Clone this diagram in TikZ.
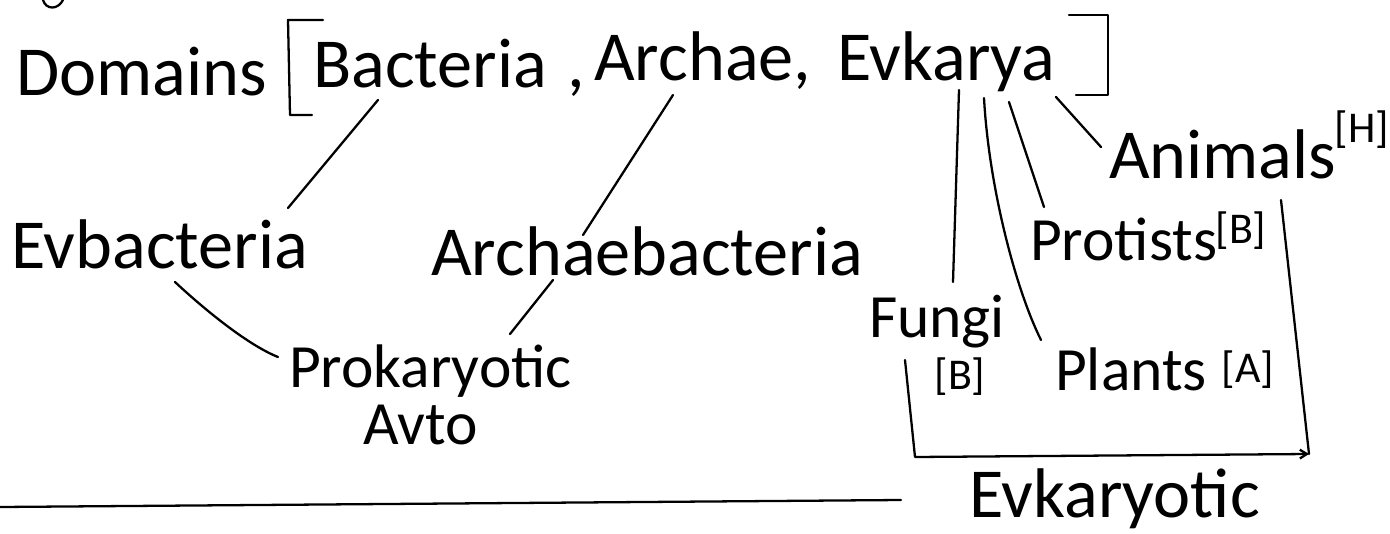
\documentclass[tikz,border=0pt]{standalone}
\usepackage{fontspec}
\setmainfont{Carlito}
\usetikzlibrary{arrows.meta}

\begin{document}
\begin{tikzpicture}[
  x=0.02cm, y=-0.02cm,
  line width=1.3pt, line cap=round, line join=round,
  word/.style={inner sep=0pt, anchor=base west, font=\fontsize{40}{40}\selectfont},
  smallword/.style={word, font=\fontsize{35}{35}\selectfont},
  tag/.style={inner sep=0pt, font=\fontsize{25}{25}\selectfont}
]
\useasboundingbox (0,0) rectangle (1390,534);

% top line
\node[word] (dom) at (15,95) {Domains};
\node[word] (bac) at (312,87) {Bacteria};
\node[word] (cm1) at (566,87) {,};
\node[word] (arc) at (593,80) {Archae,};
\node[word] (evk) at (836,80) {Evkarya};

% hand drawn brackets
\draw (323,20) -- (288,20) -- (290,115) -- (312,115);
\draw (1069,15) -- (1108,15) -- (1108,95) -- (1076,95);
\draw (43,0) .. controls (46,10) and (58,10) .. (63,0);

% prokaryotes
\node[word] (evb) at (10,268) {Evbacteria};
\node[word] (arcb) at (430,275) {Archaebacteria};
\node[smallword] (prok) at (288,387) {Prokaryotic};
\node[smallword] (avto) at (362,444) {Avto};

% eukaryotes
\node[word] (ani) at (1108,178) {Animals};
\node[tag] (aniH) at (1362,130) {[H]};
\node[smallword] (pro) at (1029,260) {Protists};
\node[tag] (proB) at (1241,231) {[B]};
\node[smallword] (fun) at (868,337) {Fungi};
\node[tag] (funB) at (960,377) {[B]};
\node[smallword] (pla) at (1054,390) {Plants};
\node[tag] (plaA) at (1248,370) {[A]};
\node[word] (euk) at (968,517) {Evkaryotic};

\coordinate (boxbl) at (915,457);
\coordinate (boxbr) at (1309,454);
\coordinate (sepL) at (0,507);
\coordinate (sepR) at (901,500);

% links
\draw ([shift={(66,13)}]bac.base west) -- ([shift={(278,-60)}]evb.base west);
\draw ([shift={(80,15)}]arc.base west) -- ([shift={(153,-40)}]arcb.base west);
\draw ([shift={(165,14)}]evb.base west) .. controls +(30,28) and +(-30,-12) .. ([shift={(-10,-30)}]prok.base west);
\draw ([shift={(123,5)}]arcb.base west) -- ([shift={(222,-53)}]prok.base west);
\draw ([shift={(123,10)}]evk.base west) -- ([shift={(85,-55)}]fun.base west);
\draw ([shift={(148,18)}]evk.base west) .. controls +(5,90) and +(-25,-50) .. ([shift={(-13,-50)}]pla.base west);
\draw ([shift={(173,22)}]evk.base west) -- ([shift={(15,-53)}]pro.base west);
\draw ([shift={(220,17)}]evk.base west) -- ([shift={(-7,-31)}]ani.base west);

% group box
\draw[-{Straight Barb[length=4pt,width=5pt]}] ([shift={(37,23)}]fun.base west) -- (boxbl) -- (boxbr);
\draw ([shift={(173,22)}]ani.base west) -- (boxbr);

\draw (sepL) -- (sepR);

\end{tikzpicture}
\end{document}
